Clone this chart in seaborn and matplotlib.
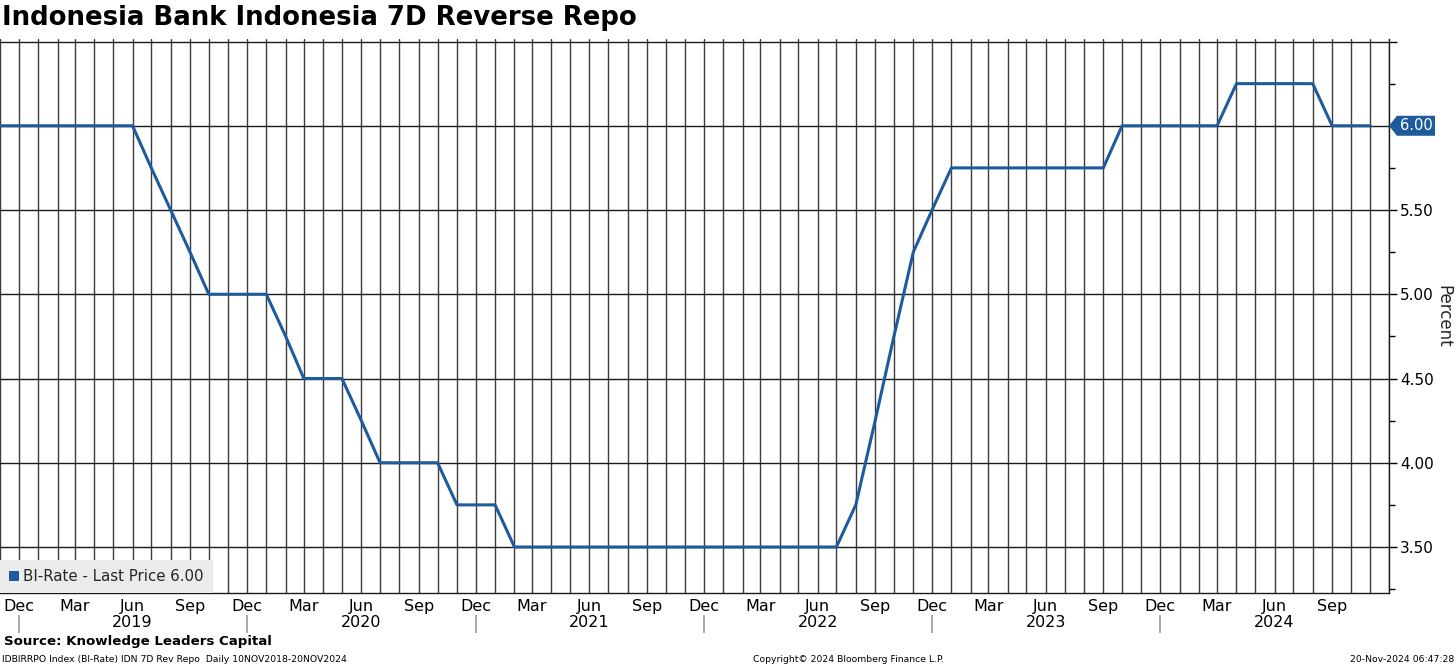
import matplotlib
matplotlib.use("Agg")
import matplotlib.pyplot as plt
import matplotlib.dates as mdates
import matplotlib.transforms as mtransforms
from matplotlib.patches import Polygon, Patch
from matplotlib.ticker import FixedLocator, FixedFormatter
import numpy as np
import pandas as pd
import seaborn as sns

# ---------------- data ----------------
start_month = "2018-11-01"
end_month = "2024-11-01"
rates = [
    6.00, 6.00,                                                            # 2018 Nov-Dec
    6.00, 6.00, 6.00, 6.00, 6.00, 6.00, 5.75, 5.50, 5.25, 5.00, 5.00, 5.00,  # 2019
    5.00, 4.75, 4.50, 4.50, 4.50, 4.25, 4.00, 4.00, 4.00, 4.00, 3.75, 3.75,  # 2020
    3.75, 3.50, 3.50, 3.50, 3.50, 3.50, 3.50, 3.50, 3.50, 3.50, 3.50, 3.50,  # 2021
    3.50, 3.50, 3.50, 3.50, 3.50, 3.50, 3.50, 3.75, 4.25, 4.75, 5.25, 5.50,  # 2022
    5.75, 5.75, 5.75, 5.75, 5.75, 5.75, 5.75, 5.75, 5.75, 6.00, 6.00, 6.00,  # 2023
    6.00, 6.00, 6.00, 6.25, 6.25, 6.25, 6.25, 6.25, 6.00, 6.00, 6.00,        # 2024 Jan-Nov
]
month_tick_start = "2018-12-01"
month_labels = ["Dec", "Mar", "Jun", "Sep"] * 6
year_labels = ["2019", "2020", "2021", "2022", "2023", "2024"]
year_sep_dates = ["2018-12-01", "2019-12-01", "2020-12-01", "2021-12-01", "2022-12-01", "2023-12-01"]
y_major = [3.50, 4.00, 4.50, 5.00, 5.50, 6.00, 6.50]
y_major_labels = ["3.50", "4.00", "4.50", "5.00", "5.50", "", ""]
y_minor = [3.25, 3.75, 4.25, 4.75, 5.25, 5.75, 6.25]
series_name = "BI-Rate - Last Price"

dates = pd.date_range(start_month, end_month, freq="MS")
df = pd.DataFrame({"date": dates, "rate": rates})

BLUE = "#1d5b9c"

# ---------------- figure ----------------
sns.set_style("white")
plt.rcParams["font.family"] = ["DejaVu Sans"]

W, H = 1456, 666
fig = plt.figure(figsize=(W / 100, H / 100), dpi=100)
ax = fig.add_axes([0, 1 - 593 / H, 1389 / W, (593 - 39) / H])

sns.lineplot(data=df, x="date", y="rate", ax=ax, color=BLUE, lw=2.2, legend=False)

ax.set_xlim(pd.Timestamp("2018-11-01"), pd.Timestamp("2024-12-01"))
ax.set_ylim(3.227, 6.515)

# x ticks: quarterly labels, monthly gridlines
q_ticks = pd.date_range(month_tick_start, periods=len(month_labels), freq="3MS")
xt_labels = []
yi = 0
for lab in month_labels:
    if lab == "Jun":
        xt_labels.append(f"{lab}\n{year_labels[yi]}")
        yi += 1
    else:
        xt_labels.append(lab)
ax.xaxis.set_major_locator(FixedLocator(mdates.date2num(q_ticks)))
ax.xaxis.set_major_formatter(FixedFormatter(xt_labels))
ax.xaxis.set_minor_locator(mdates.MonthLocator())
ax.tick_params(axis="x", which="both", length=0, pad=4, labelsize=11.5, colors="black")
for t in ax.get_xticklabels():
    t.set_linespacing(1.1)

# y axis on the right
ax.yaxis.tick_right()
ax.yaxis.set_major_locator(FixedLocator(y_major))
ax.yaxis.set_major_formatter(FixedFormatter(y_major_labels))
ax.yaxis.set_minor_locator(FixedLocator(y_minor))
ax.tick_params(axis="y", which="major", length=6, width=1, pad=2, labelsize=11,
               colors="black", direction="out")
ax.tick_params(axis="y", which="minor", length=4, width=1, color="black", direction="out")
ax.set_ylabel("Percent", fontsize=12, rotation=270)
ax.yaxis.set_label_position("right")
ax.yaxis.set_label_coords(1.0395, 0.5)
ax.yaxis.label.set_va("center")
ax.set_xlabel("")

# grid
ax.grid(True, axis="x", which="both", color="#3c3c3c", lw=1.0)
ax.grid(True, axis="y", which="major", color="#1a1a1a", lw=1.0)
ax.grid(False, axis="y", which="minor")
ax.set_axisbelow(True)

for s in ["left", "top"]:
    ax.spines[s].set_visible(False)
for s in ["right", "bottom"]:
    ax.spines[s].set_visible(True)
    ax.spines[s].set_color("#1a1a1a")
    ax.spines[s].set_linewidth(1.0)

# year separator ticks below month labels
ax.vlines(pd.to_datetime(year_sep_dates), -0.040, -0.073, color="#9a9a9a", lw=1.2,
          transform=ax.get_xaxis_transform(), clip_on=False)

# legend
leg = ax.legend(handles=[Patch(facecolor=BLUE, edgecolor="none")],
                labels=[f"{series_name} {rates[-1]:.2f}"],
                loc="lower left", bbox_to_anchor=(0, 0), borderaxespad=0,
                frameon=True, fancybox=False, facecolor="#ebebeb", edgecolor="none",
                framealpha=1, fontsize=10.8, handlelength=0.65, handleheight=0.65,
                handletextpad=0.3, borderpad=0.6)

# last value tag on the right axis
tag_trans = fig.dpi_scale_trans + mtransforms.ScaledTranslation(1.0, rates[-1], ax.get_yaxis_transform())
tag = Polygon(np.array([[0, 0], [8, 10], [46, 10], [46, -10], [8, -10]]) / 100,
              closed=True, facecolor=BLUE, edgecolor="none",
              transform=tag_trans, clip_on=False, zorder=5)
ax.add_patch(tag)
txt_trans = ax.get_yaxis_transform() + mtransforms.ScaledTranslation(27 / 100, 0, fig.dpi_scale_trans)
ax.text(1.0, rates[-1], f"{rates[-1]:.2f}", transform=txt_trans, ha="center", va="center",
        color="white", fontsize=10.5, zorder=6, clip_on=False)

# texts
fig.text(2 / W, 1 - 18 / H, "Indonesia Bank Indonesia 7D Reverse Repo", ha="left", va="center",
         fontsize=18.7, fontweight="bold", color="black")
fig.text(4 / W, 1 - 642 / H, "Source: Knowledge Leaders Capital", ha="left", va="center",
         fontsize=9.6, fontweight="bold", color="black")
fig.text(2 / W, 1 - 659 / H, "IDBIRRPO Index (BI-Rate) IDN 7D Rev Repo  Daily 10NOV2018-20NOV2024",
         ha="left", va="center", fontsize=6.7, color="black")
fig.text(848 / W, 1 - 659 / H, "Copyright\u00a9 2024 Bloomberg Finance L.P.",
         ha="center", va="center", fontsize=6.7, color="black")
fig.text(1454 / W, 1 - 659 / H, "20-Nov-2024 06:47:28", ha="right", va="center",
         fontsize=6.7, color="black")

fig.savefig("out.png", dpi=100, facecolor="white")
